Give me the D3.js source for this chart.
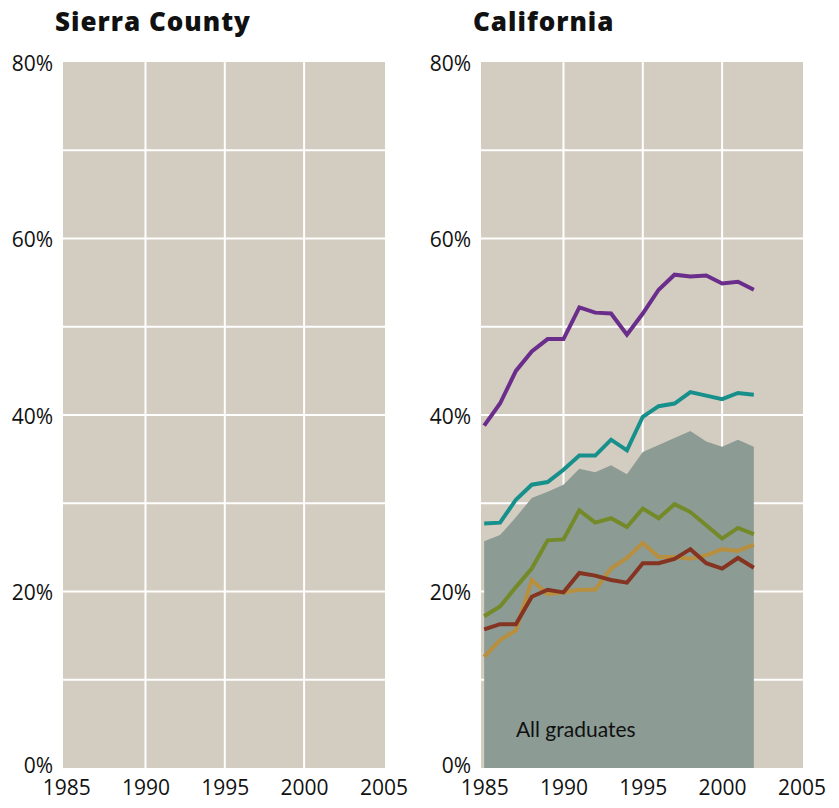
<!DOCTYPE html>
<html>
<head>
<meta charset="UTF-8">
<style>
body{
	margin: 0;
	background: #fff;
	font-family: Lato, "Open Sans", sans-serif;
}
.panel-title{
	font-family: "Open Sans", Lato, sans-serif;
	font-size: 26px;
	font-weight: 800;
	letter-spacing: 1px;
	fill: #111;
}
.plot-bg{
	fill: #d3ccc1;
}
.grid line{
	stroke: #fff;
	stroke-width: 2;
}
.axis text{
	font-family: "Open Sans", Lato, sans-serif;
	font-size: 21px;
	fill: #111;
}
.axis path, .axis line{
	display: none;
}
.area{
	fill: #8c9b94;
}
.line{
	fill: none;
	stroke-width: 4;
	stroke-linejoin: miter;
}
.area-label{
	font-size: 21px;
	fill: #111;
}
</style>
<script src="https://cdn.jsdelivr.net/npm/d3@7"></script>
</head>
<body>
<script>
var years = d3.range(1985, 2003);

var panelNames = ["Sierra County", "California"];
var xTicks = [1985, 1990, 1995, 2000, 2005];
var yTicks = [0, 20, 40, 60, 80];

// California, share of graduates (%)
var allGraduates = [25.7, 26.4, 28.4, 30.6, 31.3, 32.1, 33.9, 33.5, 34.3, 33.3, 35.8, 36.6, 37.4, 38.2, 37.0, 36.4, 37.2, 36.4];
var purpleSeries = [38.8, 41.3, 45.0, 47.2, 48.6, 48.6, 52.2, 51.6, 51.5, 49.1, 51.5, 54.2, 55.9, 55.7, 55.8, 54.9, 55.1, 54.2];
var tealSeries   = [27.7, 27.8, 30.4, 32.1, 32.4, 33.8, 35.4, 35.4, 37.2, 36.0, 39.8, 41.0, 41.3, 42.6, 42.2, 41.8, 42.5, 42.3];
var greenSeries  = [17.2, 18.3, 20.5, 22.6, 25.8, 25.9, 29.2, 27.8, 28.3, 27.3, 29.4, 28.3, 29.9, 29.0, 27.5, 26.0, 27.2, 26.5];
var goldSeries   = [12.6, 14.5, 15.6, 21.3, 19.7, 19.9, 20.2, 20.2, 22.6, 23.8, 25.5, 23.9, 23.9, 23.7, 24.1, 24.8, 24.6, 25.3];
var brownSeries  = [15.7, 16.3, 16.3, 19.4, 20.2, 19.9, 22.1, 21.8, 21.3, 21.0, 23.2, 23.2, 23.7, 24.8, 23.2, 22.6, 23.8, 22.7];

var lineColors = ["#6b2d8c", "#17908c", "#748a29", "#b78f3f", "#843421"];
var californiaLines = [purpleSeries, tealSeries, greenSeries, goldSeries, brownSeries];

var panelLeft = [63, 481],
	plotWidth = 322,
	plotTop = 62,
	plotBottom = 768;

var svg = d3.select("body").append("svg")
	.attr("width", 839)
	.attr("height", 808);

var x = d3.scaleLinear()
	.domain([1984.8, 2005.1])
	.range([0, plotWidth]);

var y = d3.scaleLinear()
	.domain([0, 80])
	.range([plotBottom, plotTop]);

panelNames.forEach(function(name, i){
	var g = svg.append("g")
		.attr("transform", "translate(" + panelLeft[i] + ",0)");

	g.append("text")
		.attr("class", "panel-title")
		.attr("x", -8)
		.attr("y", 31)
		.text(name);

	g.append("rect")
		.attr("class", "plot-bg")
		.attr("x", 0)
		.attr("y", y(80))
		.attr("width", plotWidth)
		.attr("height", y(0) - y(80));

	var grid = g.append("g").attr("class", "grid");
	grid.selectAll(".h")
		.data(d3.range(10, 80, 10))
		.enter().append("line")
		.attr("x1", 0)
		.attr("x2", plotWidth)
		.attr("y1", function(d){ return y(d); })
		.attr("y2", function(d){ return y(d); });
	grid.selectAll(".v")
		.data([1990, 1995, 2000])
		.enter().append("line")
		.attr("x1", function(d){ return x(d); })
		.attr("x2", function(d){ return x(d); })
		.attr("y1", y(80))
		.attr("y2", y(0));

	if(name === "California"){
		var area = d3.area()
			.x(function(d, j){ return x(years[j]); })
			.y0(y(0))
			.y1(function(d){ return y(d); });
		g.append("path")
			.datum(allGraduates)
			.attr("class", "area")
			.attr("d", area);

		g.append("text")
			.attr("class", "area-label")
			.attr("x", x(1987))
			.attr("y", 737)
			.text("All graduates");

		var line = d3.line()
			.x(function(d, j){ return x(years[j]); })
			.y(function(d){ return y(d); });
		californiaLines.forEach(function(series, k){
			g.append("path")
				.datum(series)
				.attr("class", "line")
				.attr("stroke", lineColors[k])
				.attr("d", line);
		});
	}

	g.append("g")
		.attr("class", "y axis")
		.call(d3.axisLeft(y).tickValues(yTicks).tickSize(0).tickPadding(10)
			.tickFormat(function(d){ return d + "%"; }))
		.selectAll("text")
		.attr("dy", function(d){ return d === 0 ? "0.2em" : "0.4em"; });

	g.append("g")
		.attr("class", "x axis")
		.attr("transform", "translate(0," + plotBottom + ")")
		.call(d3.axisBottom(x).tickValues(xTicks).tickSize(0).tickPadding(12)
			.tickFormat(d3.format("d")));
});
</script>
</body>
</html>
